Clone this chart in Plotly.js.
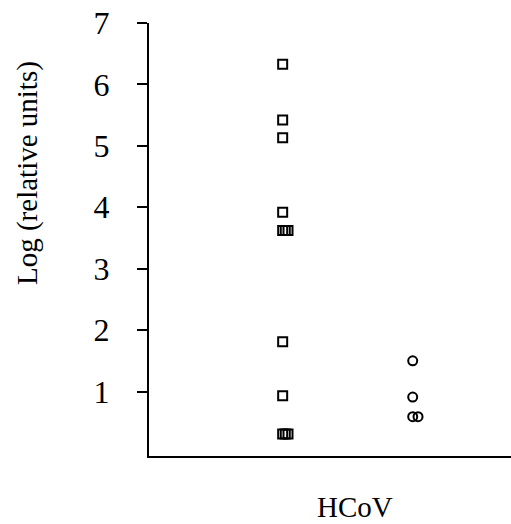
<!DOCTYPE html>
<html>
<head>
<meta charset="utf-8">
<script src="https://cdn.plot.ly/plotly-3.0.1.min.js"></script>
<style>html,body{margin:0;padding:0;background:#fff;} #chart{width:511px;height:524px;}</style>
</head>
<body>
<div id="chart"></div>
<script>
// Group 1 (squares) and group 2 (circles); x holds group position with small jitter
var squareX = [1, 1, 1, 1, 1, 1.02, 1.041, 1, 1, 1, 1.02, 1.041];
var squareY = [6.33, 5.42, 5.13, 3.92, 3.62, 3.62, 3.62, 1.81, 0.93, 0.31, 0.31, 0.31];
var circleX = [2, 2, 2, 2.041];
var circleY = [1.50, 0.91, 0.59, 0.59];
var yTicks = [1, 2, 3, 4, 5, 6, 7];
var yTitle = "Log (relative units)";
var xTitle = "HCoV";

var font = "Liberation Serif, Times New Roman, serif";

var traces = [
  {x: squareX, y: squareY, type: 'scatter', mode: 'markers', cliponaxis: false,
   marker: {symbol: 'square-open', size: 9, color: '#000', line: {width: 2, color: '#000'}}},
  {x: circleX, y: circleY, type: 'scatter', mode: 'markers', cliponaxis: false,
   marker: {symbol: 'circle-open', size: 9, color: '#000', line: {width: 2, color: '#000'}}}
];

var layout = {
  width: 511, height: 524,
  margin: {l: 149, r: 0, t: 23, b: 68, pad: 0},
  paper_bgcolor: '#fff', plot_bgcolor: '#fff',
  showlegend: false,
  font: {family: font, color: '#000', size: 30},
  xaxis: {range: [-0.028, 2.756], showgrid: false, zeroline: false, showticklabels: false,
          ticks: '', showline: true, linecolor: '#000', linewidth: 2, fixedrange: true},
  yaxis: {range: [-0.05, 7], tickvals: yTicks, ticktext: yTicks.map(String), showgrid: false, zeroline: false,
          ticks: 'outside', ticklen: 10, tickwidth: 2, tickcolor: '#000', ticklabelstandoff: 21,
          showline: true, linecolor: '#000', linewidth: 2, tickfont: {family: font, size: 32, color: '#000'},
          fixedrange: true},
  annotations: [
    {text: yTitle, xref: 'paper', yref: 'paper', x: -149/362, y: (456-173)/433, xanchor: 'center', yanchor: 'middle',
     xshift: 27, textangle: -90, showarrow: false, font: {family: font, size: 29, color: '#000'}},
    {text: xTitle, xref: 'paper', yref: 'paper', x: (355-149)/362, y: 0, yanchor: 'middle', xanchor: 'center',
     yshift: -(507-456), showarrow: false, font: {family: font, size: 29, color: '#000'}}
  ]
};

Plotly.newPlot('chart', traces, layout, {displayModeBar: false, staticPlot: true});
</script>
</body>
</html>
